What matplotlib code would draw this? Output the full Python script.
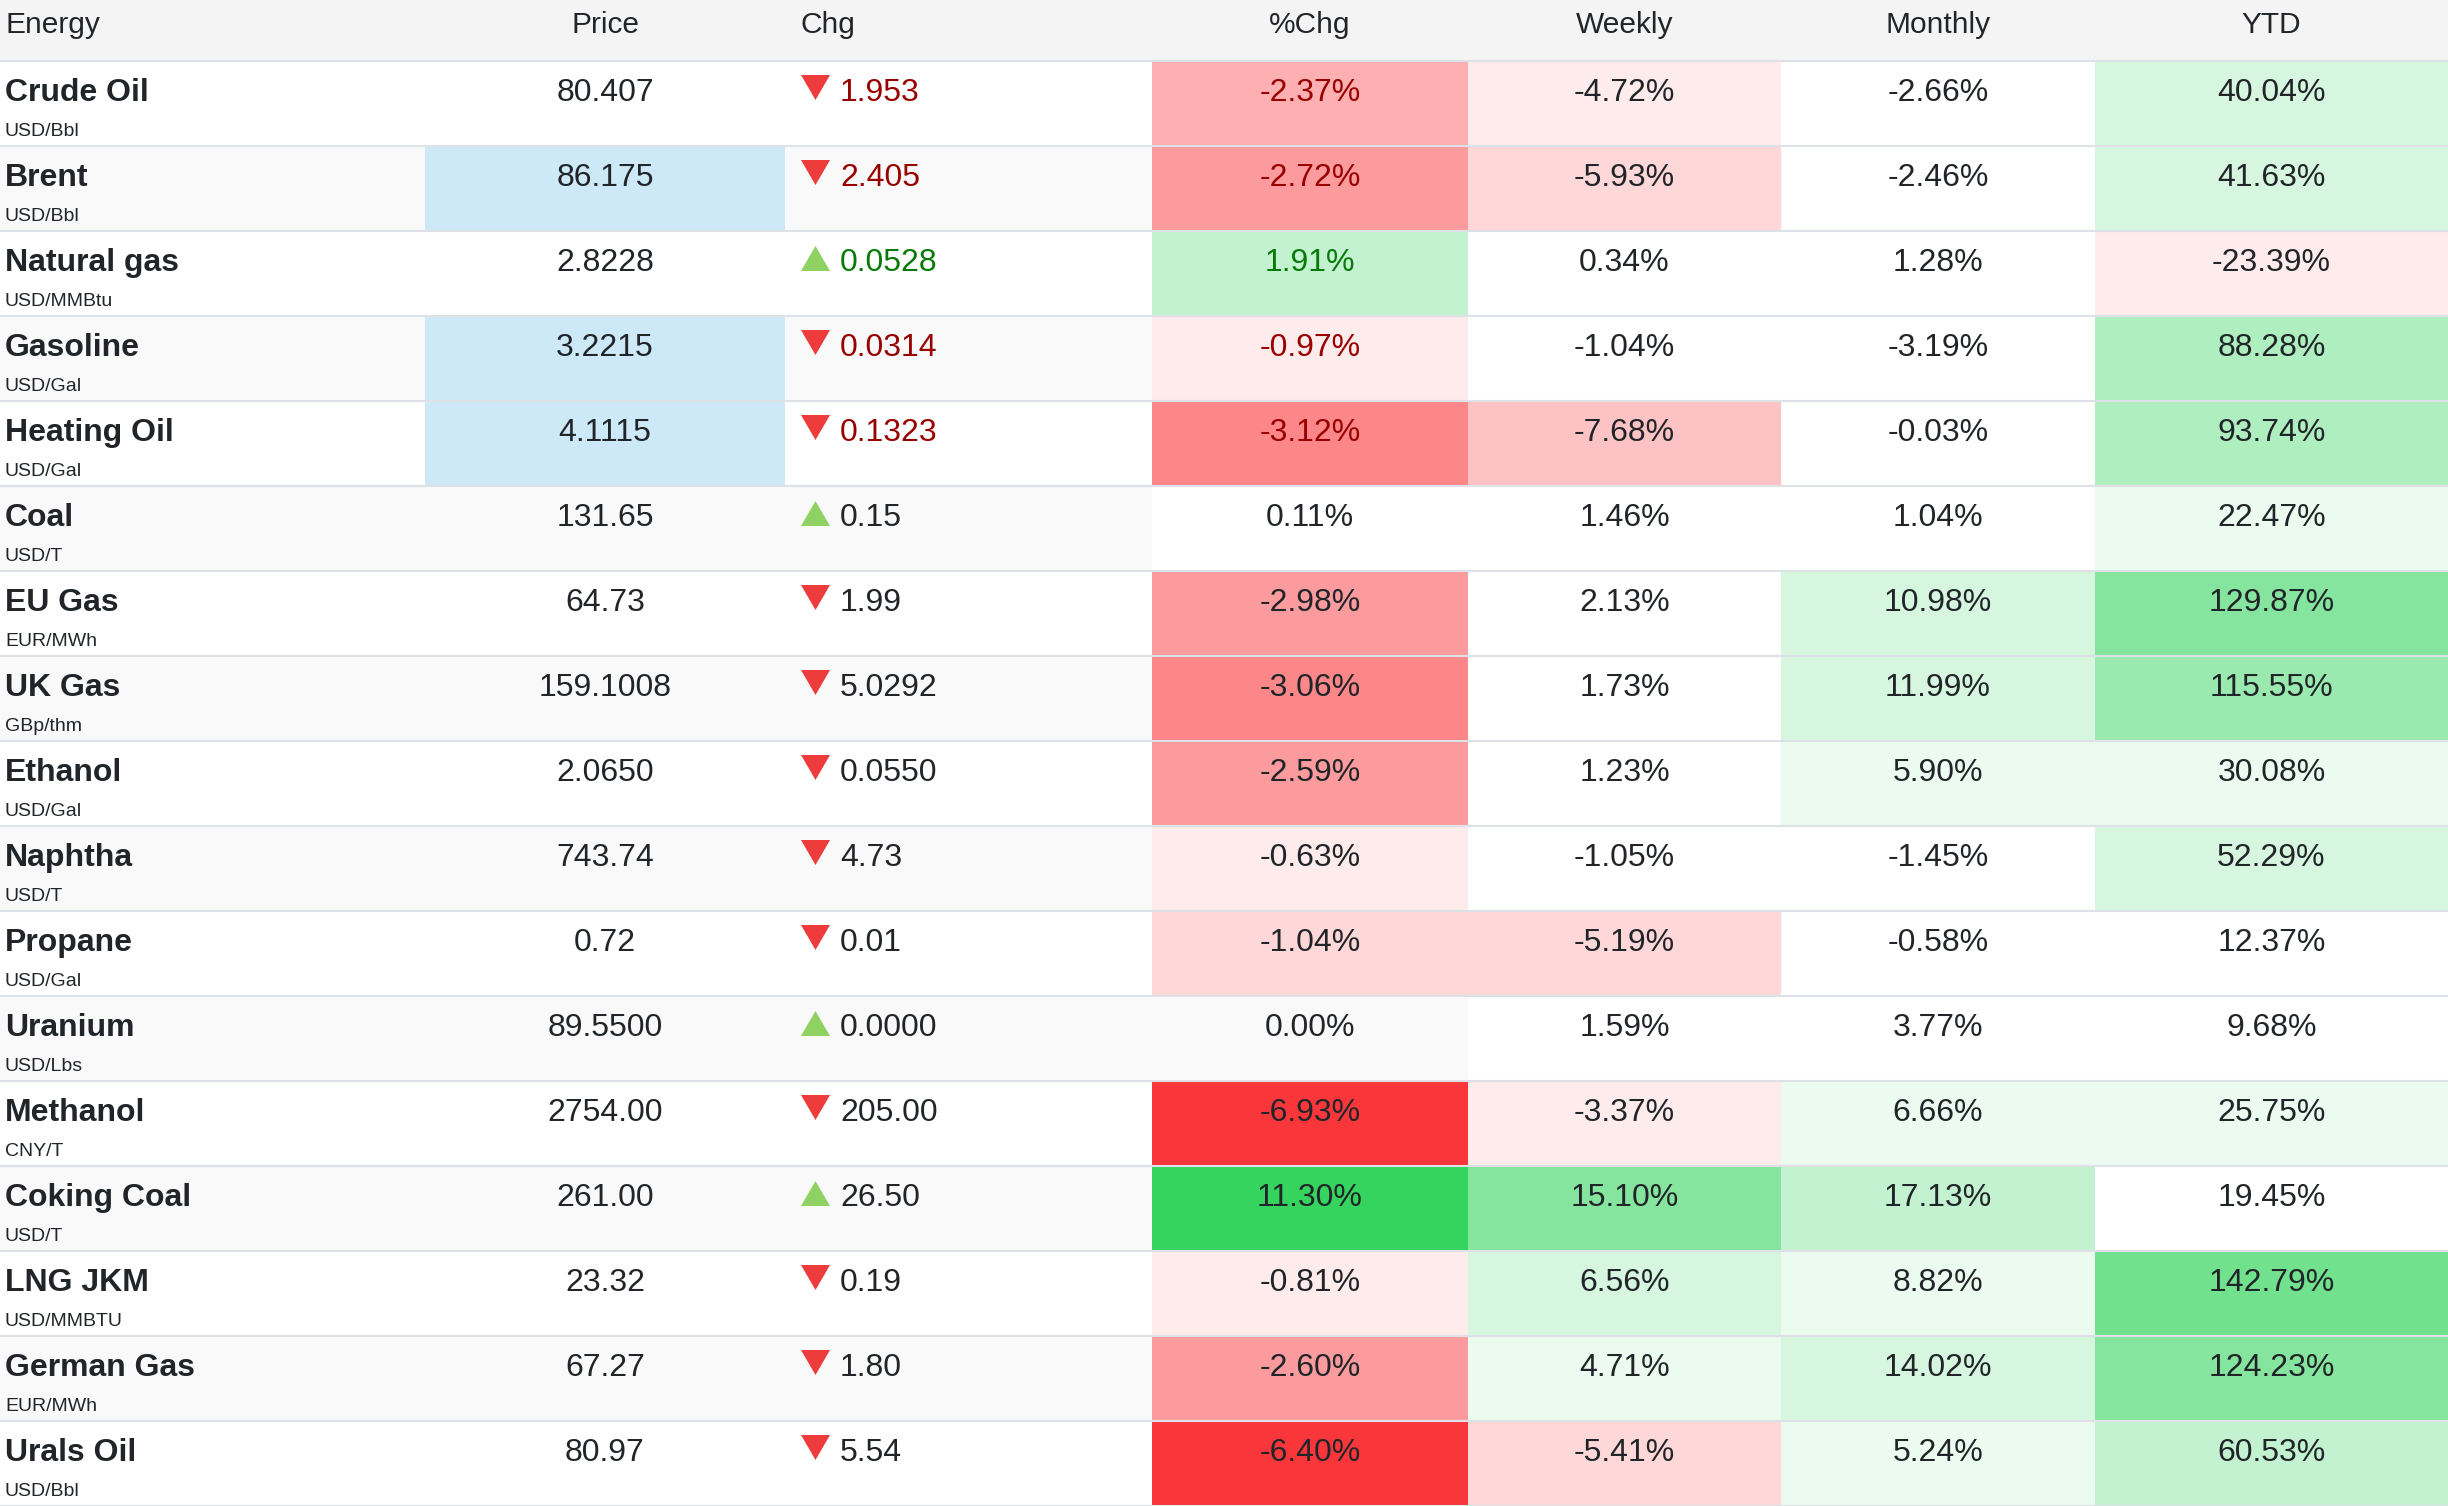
import matplotlib
matplotlib.use("Agg")
import matplotlib.pyplot as plt
from matplotlib.patches import Rectangle, Polygon

# ---------------- data ----------------
headers = ["Energy", "Price", "Chg", "%Chg", "Weekly", "Monthly", "YTD"]
names = ["Crude Oil", "Brent", "Natural gas", "Gasoline", "Heating Oil", "Coal",
         "EU Gas", "UK Gas", "Ethanol", "Naphtha", "Propane", "Uranium",
         "Methanol", "Coking Coal", "LNG JKM", "German Gas", "Urals Oil"]
units = ["USD/Bbl", "USD/Bbl", "USD/MMBtu", "USD/Gal", "USD/Gal", "USD/T",
         "EUR/MWh", "GBp/thm", "USD/Gal", "USD/T", "USD/Gal", "USD/Lbs",
         "CNY/T", "USD/T", "USD/MMBTU", "EUR/MWh", "USD/Bbl"]
prices = ["80.407", "86.175", "2.8228", "3.2215", "4.1115", "131.65", "64.73",
          "159.1008", "2.0650", "743.74", "0.72", "89.5500", "2754.00",
          "261.00", "23.32", "67.27", "80.97"]
changes = ["-1.953", "-2.405", "+0.0528", "-0.0314", "-0.1323", "+0.15", "-1.99",
           "-5.0292", "-0.0550", "-4.73", "-0.01", "+0.0000", "-205.00",
           "+26.50", "-0.19", "-1.80", "-5.54"]
pct_chg = [-2.37, -2.72, 1.91, -0.97, -3.12, 0.11, -2.98, -3.06, -2.59, -0.63,
           -1.04, 0.00, -6.93, 11.30, -0.81, -2.60, -6.40]
weekly = [-4.72, -5.93, 0.34, -1.04, -7.68, 1.46, 2.13, 1.73, 1.23, -1.05,
          -5.19, 1.59, -3.37, 15.10, 6.56, 4.71, -5.41]
monthly = [-2.66, -2.46, 1.28, -3.19, -0.03, 1.04, 10.98, 11.99, 5.90, -1.45,
           -0.58, 3.77, 6.66, 17.13, 8.82, 14.02, 5.24]
ytd = [40.04, 41.63, -23.39, 88.28, 93.74, 22.47, 129.87, 115.55, 30.08, 52.29,
       12.37, 9.68, 25.75, 19.45, 142.79, 124.23, 60.53]
price_flash = [False, True, False, True, True, False, False, False, False, False,
               False, False, False, False, False, False, False]
recent = [True, True, True, True, True, False, False, False, False, False,
          False, False, False, False, False, False, False]

# ---------------- layout / style ----------------
W, H = 2448, 1506
HEAD_H = 60
ROW_H = 85
col_edges = [0, 425, 785, 1152, 1468, 1781, 2095, 2448]
heat_cols = [(pct_chg, 0.5), (weekly, 2.5), (monthly, 5.0), (ytd, 20.0)]

FONT = ["Liberation Sans", "DejaVu Sans"]
plt.rcParams["font.family"] = FONT
TXT = "#212529"
RED_BASE = (249, 55, 59)
GREEN_BASE = (52, 212, 94)
ROW_ALT = "#f9f9f9"
HEAD_BG = "#f4f4f4"
LINE = "#dee2e6"
FLASH = "#cde9f8"
TRI_RED = "#ee3b3b"
TRI_GREEN = "#8fd163"
DARK_RED = "#990000"
DARK_GREEN = "#087a08"


def heat_colour(v, step):
    if v == 0:
        return None
    level = min(int(abs(v) / step), 10)
    t = level / 10.0
    base = GREEN_BASE if v > 0 else RED_BASE
    return tuple((255 - t * (255 - c)) / 255.0 for c in base)


fig = plt.figure(figsize=(W / 100, H / 100), dpi=100)
ax = fig.add_axes([0, 0, 1, 1])
ax.set_xlim(0, W)
ax.set_ylim(H, 0)
ax.axis("off")

# header
ax.add_patch(Rectangle((0, 0), W, HEAD_H, color=HEAD_BG, lw=0))
for j, h in enumerate(headers):
    x0, x1 = col_edges[j], col_edges[j + 1]
    if j == 0:
        ax.text(5, 33, h, fontsize=21.5, color=TXT, ha="left", va="baseline")
    elif j == 2:
        ax.text(x0 + 16, 33, h, fontsize=21.5, color=TXT, ha="left", va="baseline")
    else:
        ax.text((x0 + x1) / 2, 33, h, fontsize=21.5, color=TXT, ha="center", va="baseline")

n = len(names)
for i in range(n):
    top = HEAD_H + i * ROW_H
    bg = ROW_ALT if i % 2 == 1 else "white"
    ax.add_patch(Rectangle((0, top), W, ROW_H, color=bg, lw=0))
    if price_flash[i]:
        ax.add_patch(Rectangle((col_edges[1], top), col_edges[2] - col_edges[1], ROW_H,
                               color=FLASH, lw=0))
    base_y = top + 41
    # name + unit
    ax.text(5, base_y, names[i], fontsize=23, fontweight="bold", color=TXT,
            ha="left", va="baseline")
    ax.text(5, top + 76, units[i], fontsize=14, color=TXT, ha="left", va="baseline")
    # price
    ax.text((col_edges[1] + col_edges[2]) / 2, base_y, prices[i], fontsize=23,
            color=TXT, ha="center", va="baseline")
    # change with triangle
    up = changes[i].startswith("+")
    tx = col_edges[2] + 16
    if up:
        tri = [(tx, top + 41), (tx + 29, top + 41), (tx + 14.5, top + 16)]
        tcol = TRI_GREEN
    else:
        tri = [(tx, top + 15), (tx + 29, top + 15), (tx + 14.5, top + 40)]
        tcol = TRI_RED
    ax.add_patch(Polygon(tri, closed=True, color=tcol, lw=0))
    ccol = TXT
    if recent[i]:
        ccol = DARK_GREEN if up else DARK_RED
    ax.text(tx + 39, base_y, changes[i].lstrip("+-"), fontsize=23, color=ccol,
            ha="left", va="baseline")
    # heat columns
    for k, (vals, step) in enumerate(heat_cols):
        j = 3 + k
        x0, x1 = col_edges[j], col_edges[j + 1]
        v = vals[i]
        c = heat_colour(v, step)
        if c is not None:
            ax.add_patch(Rectangle((x0, top), x1 - x0, ROW_H, color=c, lw=0))
        vcol = TXT
        if k == 0 and recent[i] and v != 0:
            vcol = DARK_GREEN if v > 0 else DARK_RED
        ax.text((x0 + x1) / 2, base_y, f"{v:.2f}%", fontsize=23, color=vcol,
                ha="center", va="baseline")

# separator lines
for i in range(n + 1):
    y = HEAD_H + i * ROW_H + 1
    ax.plot([0, W], [y, y], color=LINE, lw=1.5, solid_capstyle="butt", zorder=5)

fig.savefig("out.png", dpi=100)
